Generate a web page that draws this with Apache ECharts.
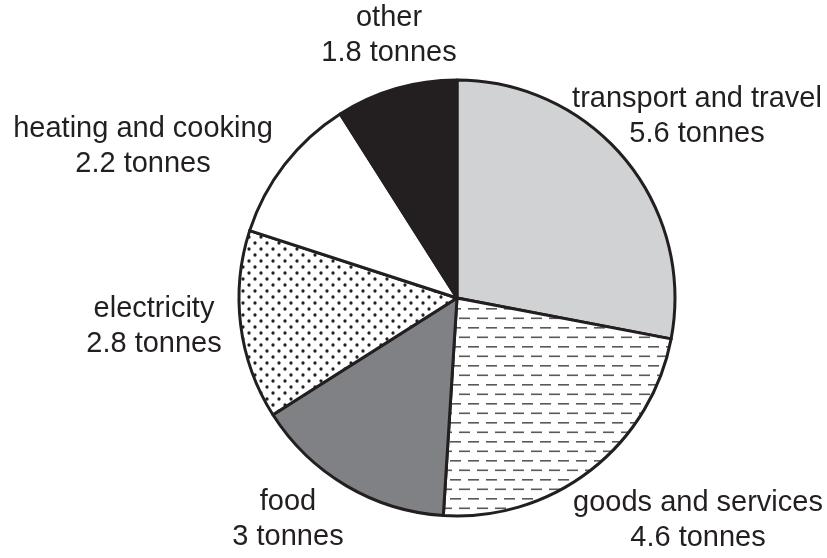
<!DOCTYPE html>
<html>
<head>
<meta charset="utf-8">
<script src="https://cdn.jsdelivr.net/npm/echarts@6/dist/echarts.min.js"></script>
<style>
html,body{margin:0;padding:0;background:#fff;}
#chart{width:827px;height:558px;}
</style>
</head>
<body>
<div id="chart"></div>
<script>
const categories = ['transport and travel', 'goods and services', 'food', 'electricity', 'heating and cooking', 'other'];
const values = [5.6, 4.6, 3, 2.8, 2.2, 1.8];
const unit = 'tonnes';

// label block centres (layout only)
const labelCentres = [[697, 116], [698, 520], [288, 519], [154, 326], [143, 146], [389, 35]];

function dashPattern() {
  const c = document.createElement('canvas');
  c.width = 18; c.height = 19;
  const g = c.getContext('2d');
  g.fillStyle = '#fff'; g.fillRect(0, 0, 18, 19);
  g.fillStyle = '#58595b';
  g.fillRect(0, 4, 11, 1.6);
  g.fillRect(9, 13.5, 9, 1.6);
  g.fillRect(0, 13.5, 2, 1.6);
  return c;
}
function dotPattern() {
  const c = document.createElement('canvas');
  c.width = 12; c.height = 12;
  const g = c.getContext('2d');
  g.fillStyle = '#fff'; g.fillRect(0, 0, 12, 12);
  g.fillStyle = '#231f20';
  g.beginPath(); g.arc(3, 3, 1.65, 0, Math.PI * 2); g.fill();
  g.beginPath(); g.arc(9, 9, 1.65, 0, Math.PI * 2); g.fill();
  return c;
}

const fills = [
  '#d1d2d4',
  { image: dashPattern(), repeat: 'repeat' },
  '#808184',
  { image: dotPattern(), repeat: 'repeat' },
  '#ffffff',
  '#231f20'
];

const chart = echarts.init(document.getElementById('chart'), null, { renderer: 'canvas' });
chart.setOption({
  animation: false,
  backgroundColor: '#fff',
  series: [{
    type: 'pie',
    center: [457, 298],
    radius: 218,
    startAngle: 90,
    clockwise: true,
    avoidLabelOverlap: false,
    data: categories.map((n, i) => ({ name: n, value: values[i], itemStyle: { color: fills[i] } })),
    itemStyle: { borderColor: '#231f20', borderWidth: 3 },
    label: {
      show: true,
      position: 'outside',
      formatter: p => p.name + '\n' + p.value + ' ' + unit,
      fontFamily: 'Liberation Sans, Arial, sans-serif',
      fontSize: 29,
      lineHeight: 35,
      color: '#231f20',
      align: 'center'
    },
    labelLine: { show: false },
    labelLayout: function (p) {
      const c = labelCentres[p.dataIndex];
      return { x: c[0], y: c[1], align: 'center', verticalAlign: 'middle' };
    },
    emphasis: { disabled: true }
  }]
});
</script>
</body>
</html>
